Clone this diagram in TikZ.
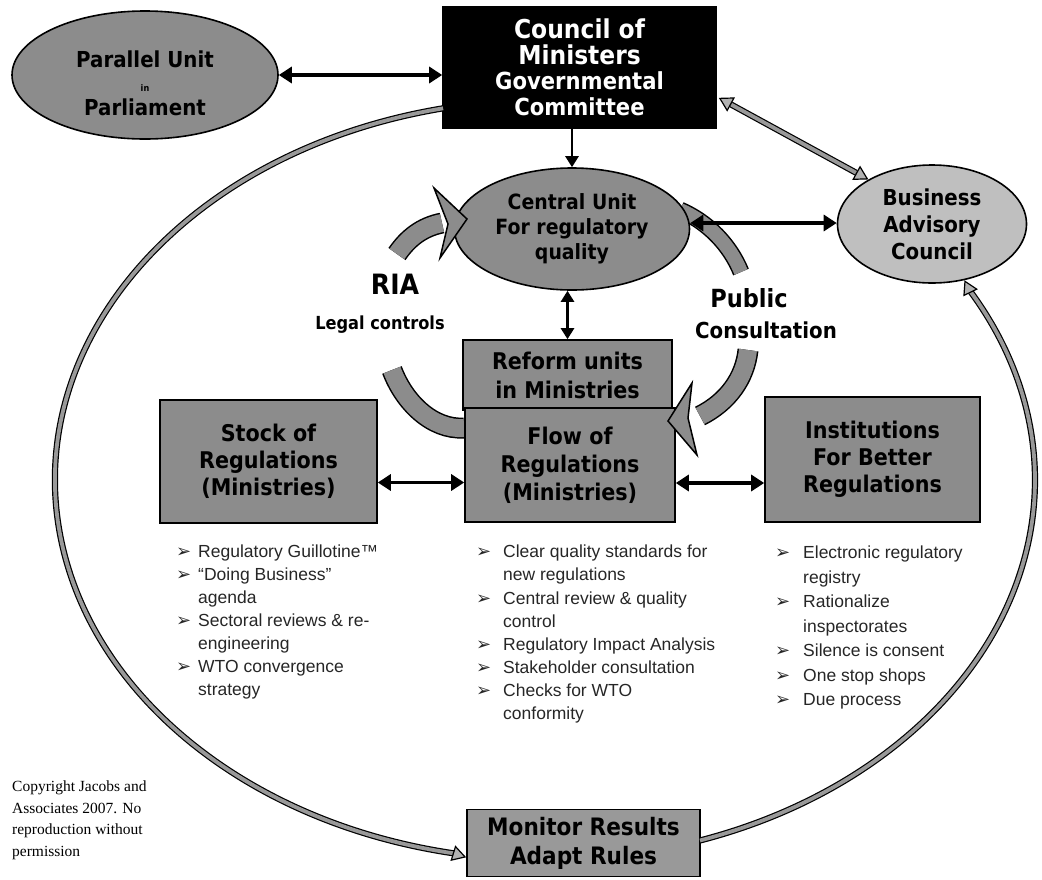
\documentclass[tikz,border=0pt]{standalone}
\usepackage{fontspec}
\setmainfont{Liberation Sans}
\newfontfamily\dv[FakeStretch=0.9]{DejaVu Sans}
\newfontfamily\symf{DejaVu Sans}
\newfontfamily\tnr{Liberation Serif}
\usetikzlibrary{arrows.meta,calc,shapes.geometric}
\newcommand{\fs}[2]{\fontsize{#1}{#2}\selectfont}
\newcommand{\bl}[1]{\makebox[#1][l]{\symf\fontsize{18}{18}\selectfont ➢}}
\begin{document}
\begin{tikzpicture}[x=1pt,y=-1pt,
  tex/.style={draw=black, line width=1.6pt, fill=black!45, inner sep=0pt, align=center},
  oval/.style={tex, ellipse},
  box/.style={tex, rectangle},
  blk/.style={line width=3.5pt, {Triangle[length=13pt,width=16pt]}-{Triangle[length=13pt,width=16pt]}},
  blkone/.style={line width=2.5pt, -{Triangle[length=11pt,width=13pt]}},
  blktwo/.style={line width=2.5pt, {Triangle[length=11pt,width=13pt]}-{Triangle[length=11pt,width=13pt]}},
  band/.style={draw=black, line width=1.2pt, double=black!40, double distance=3.8pt},
  otip/.style={line width=1.2pt, -{Triangle[length=14pt,width=16pt,fill=black!30]}},
  fat/.style={draw=black!45, line width=18pt, preaction={draw=black, line width=21pt}},
  slim/.style={draw=black!45, line width=14pt, preaction={draw=black, line width=17pt}},
  head/.style={fill=black!45, draw=black, line width=1.5pt, line join=miter},
  lst/.style={align=left, inner sep=0pt, anchor=north west, text=black!85},
  big/.style={font={\dv\bfseries}}
]
\useasboundingbox (0,0) rectangle (1042,879);

% thick cycle bands (under the nodes)
\draw[fat] (397,254) .. controls (408,238) and (422,227) .. (442,223);
\draw[fat] (464,428) .. controls (432,430) and (404,402) .. (392,370);
\draw[slim] (680,210) .. controls (708,222) and (730,245) .. (741,272);
\draw[fat] (748,350) .. controls (745,378) and (728,402) .. (700,416);

% nodes
\node[oval, minimum width=266pt, minimum height=128pt] (par) at (145,75) {};
\node[align=center, font={\dv\bfseries\fs{22}{24}}] (partxt) at (145,83) {Parallel Unit\\{\fs{9}{24}in}\\Parliament};
\node[box, fill=black, text=white, minimum width=273pt, minimum height=121pt, font={\dv\bfseries\fs{26}{25.5}}] (cou) at (579.5,67.5)
  {Council of\\Ministers\\\fs{23.5}{25.5}Governmental\\\fs{23.5}{25.5}Committee};
\node[oval, minimum width=235pt, minimum height=122pt, font={\dv\bfseries\fs{21}{25}}] (cen) at (572,229) {Central Unit\\For regulatory\\quality};
\node[oval, fill=black!25, minimum width=189pt, minimum height=118pt, font={\dv\bfseries\fs{22}{27}}] (bus) at (932,224) {Business\\Advisory\\Council};
\node[box, minimum width=209pt, minimum height=70pt, font={\dv\bfseries\fs{23}{29}}] (rfm) at (567.5,375) {Reform units\\in Ministries};
\node[box, minimum width=210pt, minimum height=114pt, font={\dv\bfseries\fs{23}{28}}] (flw) at (570,465) {Flow of\\Regulations\\(Ministries)};
\node[box, minimum width=217pt, minimum height=123pt, font={\dv\bfseries\fs{23}{27}}] (stk) at (268.5,461.5) {Stock of\\Regulations\\(Ministries)};
\node[box, minimum width=215pt, minimum height=125pt, font={\dv\bfseries\fs{23}{27}}] (ins) at (872.5,459.5) {Institutions\\For Better\\Regulations};
\node[box, fill=black!40, minimum width=233pt, minimum height=67pt, font={\dv\bfseries\fs{24}{29}}] (mon) at (583.5,843) {Monitor Results\\Adapt Rules};

% arrowheads of the cycle bands
\draw[head] (434,188) -- (467,219) -- (440,258) -- (448,224) -- cycle;
\draw[head] (692,383) -- (668,421) -- (697,455) -- (688,418) -- cycle;

% labels
\node[big, font={\dv\bfseries\fs{28}{28}}] (ria) at (395,284) {RIA};
\node[big, font={\dv\bfseries\fs{18}{18}}] (legal) at (380,325) {Legal controls};
\node[big, font={\dv\bfseries\fs{25}{25}}] (pub) at (749,298) {Public};
\node[big, font={\dv\bfseries\fs{22}{22}}] (cons) at (766,330) {Consultation};

% black arrows
\draw[blk] (par.east |- 0,75) -- (cou.west |- 0,75);
\draw[blkone] (cen.north |- cou.south) -- (cen.north);
\draw[blktwo] (rfm.north |- cen.south) -- (rfm.north);
\coordinate (cb) at ($(cen.east)+(0,-6)$);
\draw[blk] (cb) -- (cb -| bus.west);
\coordinate (sf) at ($(stk.east)+(0,21)$);
\draw[blk] (sf) -- (sf -| flw.west);
\coordinate (fi) at ($(flw.east)+(0,18)$);
\draw[blk] (fi) -- (fi -| ins.west);

% outer loop
\coordinate (E) at (545,480);
\coordinate (mL) at ($(mon.south west)+(0,-20)$);
\draw[band] ($(E)+(258:490 and 380)$) arc[start angle=258, end angle=100.7, x radius=490, y radius=380];
\draw[otip] (453,853.2) -- (mL);
\draw[band] ($(E)+(71.56:490 and 380)$) arc[start angle=71.56, end angle=-30.1, x radius=490, y radius=380];
\draw[otip] (969,289.5) -- (bus.-60);
% council <-> business
\coordinate (cb1) at ($(cou.south east)+(2,-31)$);
\draw[band, shorten <=14pt, shorten >=14pt] (cb1) -- (bus.145);
\draw[otip] ($(cb1)!14pt!(bus.145)$) -- (cb1);
\draw[otip] ($(bus.145)!14pt!(cb1)$) -- (bus.145);

% lists
\node[lst, font=\fs{17.5}{23}] (la) at (176,545) {\bl{22pt}Regulatory Guillotine™\\\bl{22pt}“Doing Business”\\\hspace*{22pt}agenda\\\bl{22pt}Sectoral reviews \& re-\\\hspace*{22pt}engineering\\\bl{22pt}WTO convergence\\\hspace*{22pt}strategy};
\node[lst, font=\fs{17.5}{23.1}] (lb) at (476,545) {\bl{27pt}Clear quality standards for\\\hspace*{27pt}new regulations\\\bl{27pt}Central review \& quality\\\hspace*{27pt}control\\\bl{27pt}Regulatory Impact Analysis\\\bl{27pt}Stakeholder consultation\\\bl{27pt}Checks for WTO\\\hspace*{27pt}conformity};
\node[lst, font=\fs{17.5}{24.5}] (lc) at (775,546) {\bl{28pt}Electronic regulatory\\\hspace*{28pt}registry\\\bl{28pt}Rationalize\\\hspace*{28pt}inspectorates\\\bl{28pt}Silence is consent\\\bl{28pt}One stop shops\\\bl{28pt}Due process};

% copyright
\node[lst, text=black, font={\tnr\fs{15.5}{21.5}}] (copy) at (12,781) {Copyright Jacobs and\\Associates 2007. No\\reproduction without\\permission};
\end{tikzpicture}
\end{document}
